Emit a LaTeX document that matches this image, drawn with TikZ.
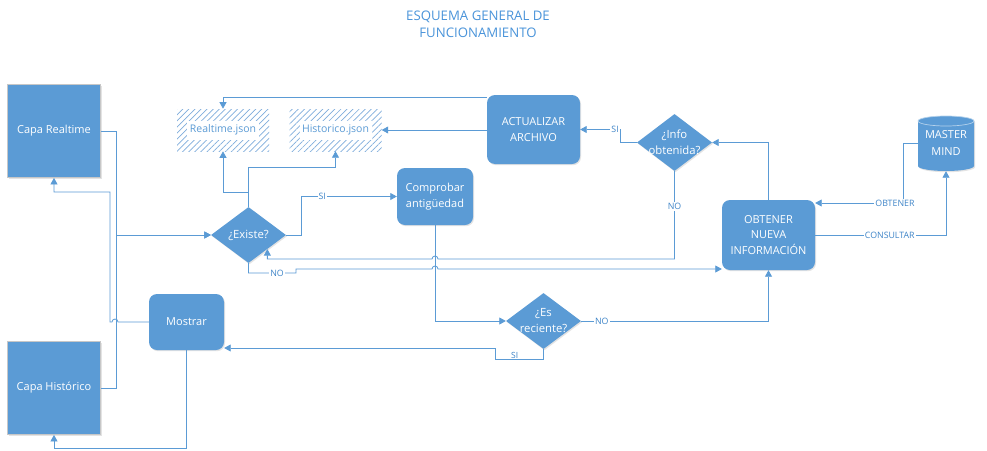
\documentclass[tikz,border=0pt]{standalone}
\usepackage{fontspec}
\setmainfont{Open Sans}
\usetikzlibrary{shapes.geometric, arrows.meta, patterns.meta, shadows, calc}
\definecolor{obl}{HTML}{5B9BD5}
\definecolor{hatc}{HTML}{7FADDC}
\definecolor{ttl}{HTML}{4A94DA}
\definecolor{ltx}{HTML}{3F85C8}
\begin{document}
\begin{tikzpicture}[x=1pt,y=-1pt,
  shd/.style={drop shadow={opacity=0.22, shadow xshift=1pt, shadow yshift=-1.2pt}},
  blk/.style={fill=obl, text=white, font=\fontsize{11}{15.5}\selectfont, align=center, inner sep=0pt, shd},
  sq/.style={blk, rectangle, draw=black!22, line width=0.8pt, minimum width=93pt, minimum height=93pt},
  rb/.style={blk, rectangle, rounded corners=8pt},
  dia/.style={blk, diamond, minimum width=75pt, minimum height=56pt},
  dtxt/.style={text=white, font=\fontsize{11.3}{16}\selectfont, align=center, inner sep=0pt},
  hat/.style={rectangle, minimum width=92pt, minimum height=42pt, inner sep=0pt,
    pattern={Lines[angle=45,distance=4.3pt,line width=0.7pt]}, pattern color=hatc},
  htxt/.style={fill=white, text=obl, font=\fontsize{10.5}{12}\selectfont, inner sep=0pt, minimum width=72pt, minimum height=19pt},
  conn/.style={draw=obl, line width=0.8pt},
  arr/.style={conn, -{Triangle[length=6.5pt,width=7pt]}},
  lb/.style={fill=white, text=ltx, inner sep=1pt, font=\fontsize{8.8}{9}\selectfont}
]
\useasboundingbox[fill=white] (0,0) rectangle (987,450);

% title
\node[text=ttl, font=\fontsize{13.2}{17}\selectfont, align=center] (title) at (478,24.5) {ESQUEMA GENERAL DE\\FUNCIONAMIENTO};

% nodes
\node[sq] (crt) at (54,131) {Capa Realtime};
\node[sq] (chi) at (54,388) {Capa Histórico};
\node[rb, minimum width=75pt, minimum height=56pt] (mos) at (186.5,322) {Mostrar};
\node[dia, label={[dtxt]center:¿Existe?}] (exi) at (248.5,235) {};
\node[hat, label={[htxt]center:Realtime.json}] (rtj) at (223,130) {};
\node[hat, label={[htxt]center:Historico.json}] (hij) at (335.5,130) {};
\node[rb, minimum width=93pt, minimum height=69pt] (act) at (533.5,129.5) {ACTUALIZAR\\ARCHIVO};
\node[dia, minimum height=57pt, label={[dtxt]center:¿Info\\obtenida?}] (inf) at (674.5,142.5) {};
\node[rb, minimum width=76pt, minimum height=57pt] (com) at (435,196.5) {Comprobar\\antigüedad};
\node[rb, minimum width=93pt, minimum height=70pt] (obt) at (768.5,235) {OBTENER\\NUEVA\\INFORMACIÓN};
\node[dia, label={[dtxt]center:¿Es\\reciente?}] (esr) at (543.5,321) {};

% cylinder MASTER MIND
\fill[obl, shd] (918,121) -- (918,166) arc[start angle=180,end angle=360,x radius=28pt,y radius=5pt]
  -- (974,121) arc[start angle=0,end angle=180,x radius=28pt,y radius=5pt] -- cycle;
\draw[white!55!obl, line width=0.7pt] (946,121) ellipse[x radius=28pt, y radius=5pt];
\node[text=white, font=\fontsize{11}{16}\selectfont, align=center, inner sep=0pt,
  minimum width=56pt, minimum height=55pt] (mm) at (946,143.5) {\raisebox{1pt}{MASTER}\\MIND};

% connectors
\draw[arr] (crt.east) -- ++(15,0) |- (exi.west);
\draw[arr] (chi.east) -- ++(15,0) |- (exi.west);
\draw[arr] (mos.west) -- (118,322) arc[start angle=0,end angle=180,radius=3pt] -- (110,322)
  -- (110,192) -- (crt.south |- 0,192) -- (crt.south);
\draw[arr] (mos.south) -- (mos.south |- 0,448) -| (chi.south);
\draw[arr] (exi.north) -- (exi.north |- 0,192) -| (rtj.south);
\draw[arr] (exi.north) -- (exi.north |- 0,167) -| (hij.south);
\draw[arr] (act.west |- 0,97) -| (rtj.north);
\draw[arr] (act.west |- hij.east) -- (hij.east);
\draw[arr] (inf.west) -- ++(-16,0) |- node[lb,pos=0.57]{SI} (act.east);
\draw[arr] (inf.south) -- node[lb,pos=0.4]{NO} (inf.south |- 0,259) -- (438,259)
  arc[start angle=0,end angle=180,radius=3pt] -- (exi.south east |- 0,259) -- (exi.south east);
\draw[arr] (exi.south) -- (exi.south |- 0,273) -- node[lb,pos=0.6]{NO} (296,273) -- (296,269) -- (432,269)
  arc[start angle=180,end angle=0,radius=3pt] -- (obt.west |- 0,269);
\draw[arr] (exi.east) -- ++(15,0) |- node[lb,pos=0.61]{SI} (com.west);
\draw[arr] (com.south) |- (esr.west);
\draw[arr] (esr.east) -| node[lb,pos=0.055]{NO} (obt.south);
\draw[arr] (esr.south) -- ++(0,10) -- node[pos=0.6, above=-1pt, text=ltx, inner sep=1pt, font=\fontsize{8.5}{9}\selectfont]{SI} ++(-48,0) |- (mos.east |- 0,348);
\draw[arr] (obt.north) |- (inf.east);
\draw[arr] (obt.east) -- node[lb,pos=0.57]{CONSULTAR} (obt.east -| mm.south) -- (mm.south);
\draw[arr] (mm.west) -- ++(-14,0) |- node[lb,pos=0.55]{OBTENER} (obt.east |- 0,203);
\end{tikzpicture}
\end{document}
